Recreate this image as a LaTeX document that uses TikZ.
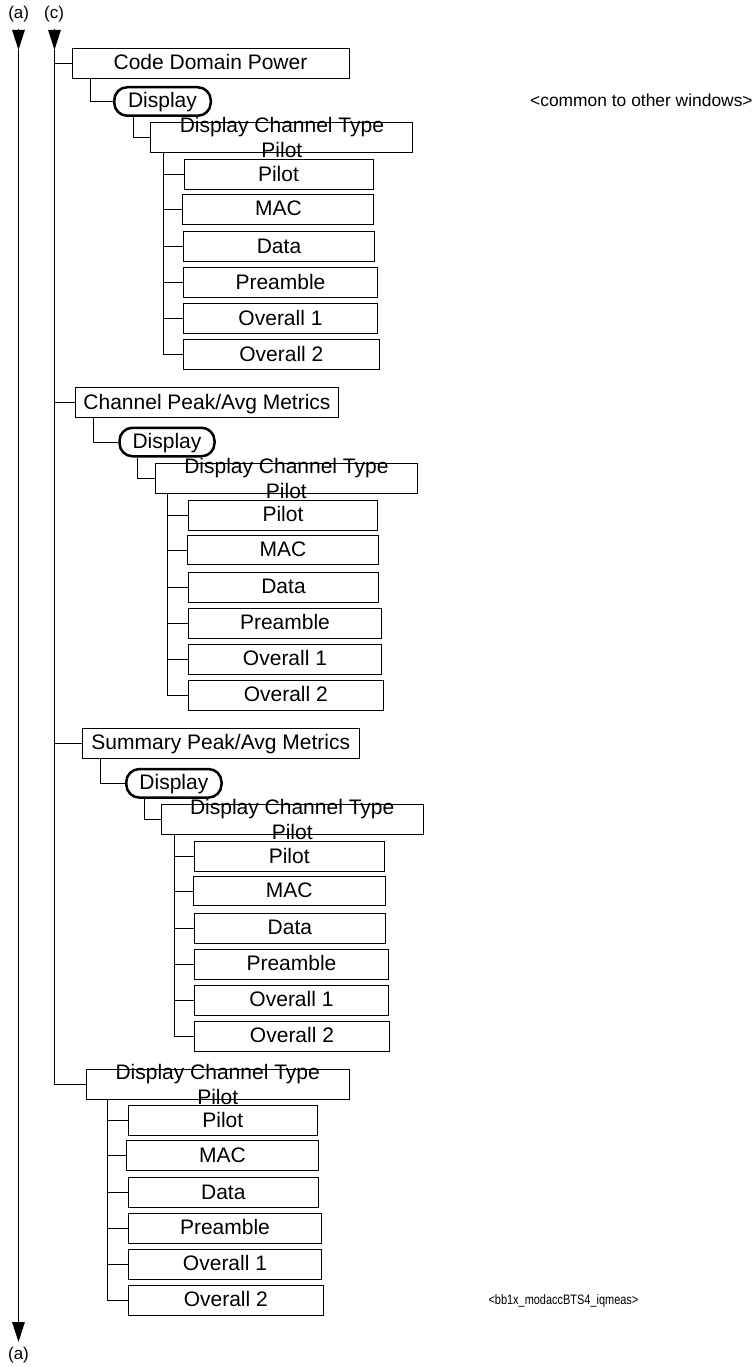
\documentclass[tikz,border=0pt]{standalone}
\usepackage{fontspec}
\setmainfont{Liberation Sans}
\newfontfamily\narrowfont[FakeStretch=0.8]{Liberation Sans}
\usetikzlibrary{arrows.meta}
\begin{document}
\begin{tikzpicture}[x=1pt,y=-1pt,
  bx/.style={draw, line width=1pt, minimum height=29.6pt, inner sep=0pt,
    text height=16pt, text depth=3pt, font=\fontsize{21}{25}\selectfont},
  dsp/.style={draw, line width=2.5pt, rounded corners=13pt, minimum height=28.5pt, inner sep=0pt,
    text height=16pt, text depth=3pt, font=\fontsize{21}{25}\selectfont},
  mtxt/.style={inner sep=0pt, align=center, font=\fontsize{21}{25}\selectfont},
  lbl/.style={inner sep=0pt, font=\fontsize{17}{20}\selectfont},
  ln/.style={line width=1pt},
  mainln/.style={line width=1.3pt},
  arr/.style={line width=1.3pt, -{Triangle[length=20pt,width=12.5pt]}}
]
\useasboundingbox (0,0) rectangle (754,1367);

% side rails
\node[lbl] (aTop) at (18.7,14.5) {(a)};
\node[lbl] (cTop) at (54,14.5) {(c)};
\node[lbl] (aBot) at (18.5,1355) {(a)};
\coordinate (aStart) at (18.5,29);
\coordinate (aTip) at (18.5,50);
\coordinate (cStart) at (54.5,29);
\coordinate (cTip) at (54.5,50);
\coordinate (aEnd) at (18.5,1342);
\draw[arr] (aStart) -- (aTip);
\draw[arr] (cStart) -- (cTip);
\draw[arr] (aTip) -- (aEnd);

% notes
\node[anchor=west, inner sep=0pt, font=\fontsize{17.4}{20}\selectfont] (note1) at (530,100.5) {<common to other windows>};
\node[anchor=west, inner sep=0pt, font=\narrowfont\fontsize{13.7}{16}\selectfont] (note2) at (488.3,1301) {<bb1x\_modaccBTS4\_iqmeas>};

% ---------- group 1 ----------
\node[bx, minimum width=277pt] (cdp) at (210.5,63.5) {Code Domain Power};
\node[dsp, minimum width=96.5pt] (d1) at (162.5,101.5) {Display};
\node[bx, minimum width=262pt] (t1) at (281.9,137.5) {};
\node[mtxt] (t1x) at (281.9,137.3) {Display Channel Type\\Pilot};
\node[bx, minimum width=189pt] (p1) at (278.5,174.7) {Pilot};
\node[bx, minimum width=191pt] (m1) at (278.4,209.3) {MAC};
\node[bx, minimum width=190.6pt] (da1) at (279,246.7) {Data};
\node[bx, minimum width=193.6pt] (pr1) at (280.5,282.5) {Preamble};
\node[bx, minimum width=193.6pt] (oa1) at (280.5,318.7) {Overall 1};
\node[bx, minimum width=195.3pt] (ob1) at (281.4,354.7) {Overall 2};
\draw[ln] (cdp.west -| cTip) -- (cdp.west);
\draw[ln] ([xshift=18.7pt]cdp.south west) |- (d1.west);
\draw[ln] ([xshift=20pt]d1.south west) |- (t1.west);
\foreach \n in {p1,m1,da1,pr1,oa1,ob1}
  \draw[ln] ([xshift=12.6pt]t1.south west) |- (\n.west);

% ---------- group 2 ----------
\node[bx, minimum width=262.6pt] (cpa) at (207,402.7) {Channel Peak/Avg Metrics};
\node[dsp, minimum width=95pt] (d2) at (167,442) {Display};
\node[bx, minimum width=262.7pt] (t2) at (286.4,478.7) {};
\node[mtxt] (t2x) at (286.4,478.5) {Display Channel Type\\Pilot};
\node[bx, minimum width=189.4pt] (p2) at (283,515.4) {Pilot};
\node[bx, minimum width=191.7pt] (m2) at (282.9,550) {MAC};
\node[bx, minimum width=190.4pt] (da2) at (283.5,587.3) {Data};
\node[bx, minimum width=193.4pt] (pr2) at (285,623.3) {Preamble};
\node[bx, minimum width=193.4pt] (oa2) at (285,659.3) {Overall 1};
\node[bx, minimum width=195pt] (ob2) at (285.8,695.2) {Overall 2};
\draw[ln] (cpa.west -| cTip) -- (cpa.west);
\draw[ln] ([xshift=18.3pt]cpa.south west) |- (d2.west);
\draw[ln] ([xshift=19.4pt]d2.south west) |- (t2.west);
\foreach \n in {p2,m2,da2,pr2,oa2,ob2}
  \draw[ln] ([xshift=13.3pt]t2.south west) |- (\n.west);

% ---------- group 3 ----------
\node[bx, minimum width=277pt] (spa) at (220.8,743.3) {Summary Peak/Avg Metrics};
\node[dsp, minimum width=95.2pt] (d3) at (173.9,783.3) {Display};
\node[bx, minimum width=262.3pt] (t3) at (292.2,819.2) {};
\node[mtxt] (t3x) at (292.2,819) {Display Channel Type\\Pilot};
\node[bx, minimum width=189.7pt] (p3) at (289.2,856.7) {Pilot};
\node[bx, minimum width=191.7pt] (m3) at (289.2,891) {MAC};
\node[bx, minimum width=190.3pt] (da3) at (289.9,928.3) {Data};
\node[bx, minimum width=193.6pt] (pr3) at (291.5,964.3) {Preamble};
\node[bx, minimum width=193.6pt] (oa3) at (291.5,1000.3) {Overall 1};
\node[bx, minimum width=194.6pt] (ob3) at (292,1036.3) {Overall 2};
\draw[ln] (spa.west -| cTip) -- (spa.west);
\draw[ln] ([xshift=18.4pt]spa.south west) |- (d3.west);
\draw[ln] ([xshift=19.3pt]d3.south west) |- (t3.west);
\foreach \n in {p3,m3,da3,pr3,oa3,ob3}
  \draw[ln] ([xshift=14pt]t3.south west) |- (\n.west);

% ---------- group 4 ----------
\node[bx, minimum width=263.3pt] (t4) at (217.7,1084.3) {};
\node[mtxt] (t4x) at (217.7,1084.1) {Display Channel Type\\Pilot};
\node[bx, minimum width=189pt] (p4) at (222.8,1120.7) {Pilot};
\node[bx, minimum width=191.6pt] (m4) at (222.5,1155.7) {MAC};
\node[bx, minimum width=190pt] (da4) at (223.3,1192.7) {Data};
\node[bx, minimum width=193.4pt] (pr4) at (225,1228.3) {Preamble};
\node[bx, minimum width=193.4pt] (oa4) at (225,1264.3) {Overall 1};
\node[bx, minimum width=195pt] (ob4) at (225.8,1300.3) {Overall 2};
\draw[mainln] (cTip) |- (t4.west);
\foreach \n in {p4,m4,da4,pr4,oa4,ob4}
  \draw[ln] ([xshift=22.3pt]t4.south west) |- (\n.west);
\end{tikzpicture}
\end{document}
